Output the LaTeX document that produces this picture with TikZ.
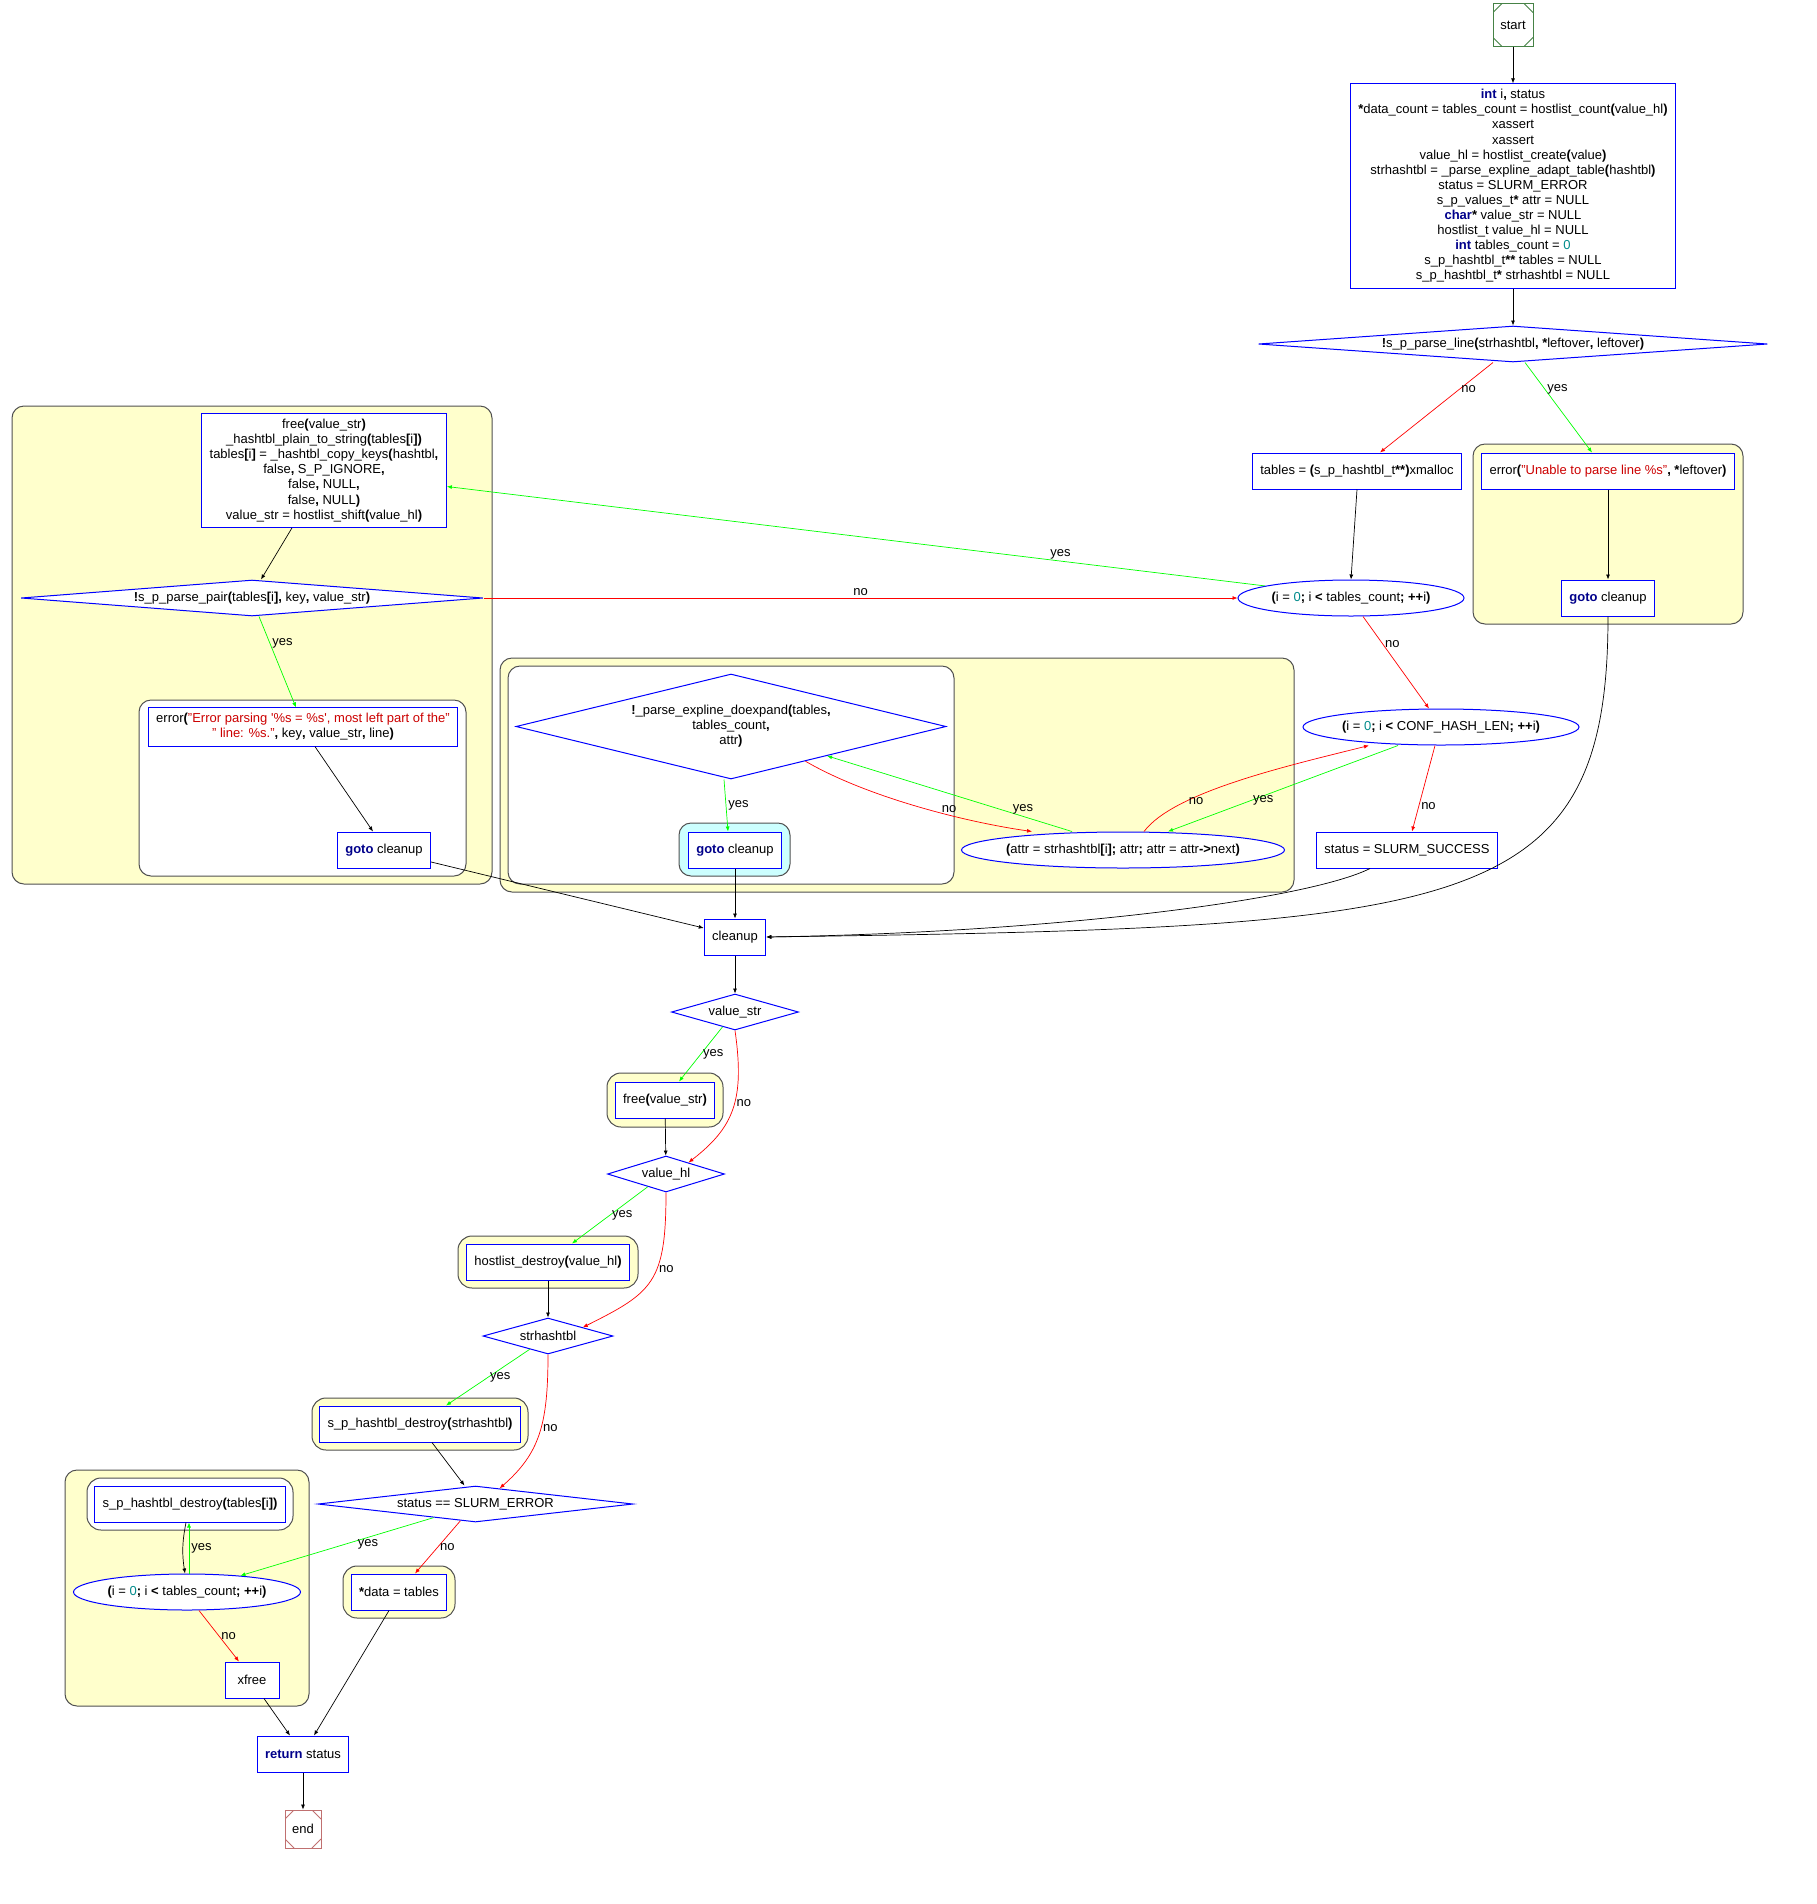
\documentclass[tikz,border=0pt]{standalone}
\usepackage{fontspec}
\setmainfont{Liberation Sans}
\usetikzlibrary{shapes.geometric,arrows.meta}

\definecolor{kwblue}{RGB}{0,0,139}
\definecolor{numcol}{RGB}{0,139,139}
\definecolor{strcol}{RGB}{204,0,0}
\definecolor{clfill}{RGB}{255,255,204}
\definecolor{clcyan}{RGB}{204,255,255}
\definecolor{cledge}{RGB}{80,80,80}
\definecolor{startcol}{RGB}{70,130,70}
\definecolor{endcol}{RGB}{192,112,112}
\definecolor{yescol}{RGB}{0,255,0}
\definecolor{nocol}{RGB}{255,0,0}

\newcommand{\kw}[1]{\textbf{\textcolor{kwblue}{#1}}}
\newcommand{\nm}[1]{\textcolor{numcol}{#1}}
\newcommand{\strl}[1]{\textcolor{strcol}{#1}}
\newcommand{\bo}[1]{\textbf{#1}}

\tikzset{
  stmt/.style={draw=blue, line width=1pt, fill=white, inner xsep=8pt, inner ysep=5.5pt,
    minimum width=54, minimum height=36, align=center},
  cond/.style={draw=blue, line width=1pt, fill=white, shape=diamond, inner sep=0pt,
    minimum height=36, align=center},
  forloop/.style={draw=blue, line width=1pt, fill=white, shape=ellipse, inner xsep=-4pt,
    inner ysep=0pt, minimum height=36},
  term/.style={draw=#1, line width=0.9pt, fill=white, minimum width=40, minimum height=43, inner sep=0pt,
    path picture={\draw[#1, line width=0.9pt]
      ([xshift=9pt]path picture bounding box.north west) -- ([yshift=-9pt]path picture bounding box.north west)
      ([xshift=-9pt]path picture bounding box.north east) -- ([yshift=-9pt]path picture bounding box.north east)
      ([xshift=9pt]path picture bounding box.south west) -- ([yshift=9pt]path picture bounding box.south west)
      ([xshift=-9pt]path picture bounding box.south east) -- ([yshift=9pt]path picture bounding box.south east);}},
  cluster/.style={draw=cledge, line width=1pt, fill=clfill, rounded corners=12pt},
  flow/.style={-{Latex[length=5pt,width=4pt]}, line width=0.7pt},
  yesedge/.style={flow, draw=yescol},
  noedge/.style={flow, draw=nocol},
  lbl/.style={inner sep=2pt, text=black}
}

\begin{document}
\begin{tikzpicture}[x=1pt, y=-1pt, font=\fontsize{13}{15.1}\selectfont]
\useasboundingbox (0,0) rectangle (1816,1904);

\draw[cluster] (12,406) rectangle (492,884);
\draw[cluster, fill=white] (139,700) rectangle (466,876);
\draw[cluster] (1473,444) rectangle (1743,624);
\draw[cluster] (500,658) rectangle (1294,892);
\draw[cluster, fill=white] (508,666) rectangle (954,884);
\draw[cluster, fill=clcyan] (679,823) rectangle (790,876);
\draw[cluster, rounded corners=14pt] (607,1073) rectangle (723,1127);
\draw[cluster, rounded corners=14pt] (458,1236) rectangle (638,1288);
\draw[cluster, rounded corners=14pt] (312,1398) rectangle (528,1450);
\draw[cluster] (65,1470) rectangle (309,1706);
\draw[cluster, fill=white, rounded corners=14pt] (87,1478) rectangle (293,1530);
\draw[cluster, rounded corners=14pt] (343,1566) rectangle (455,1618);

\node[term=startcol] (start) at (1513,25) {start};
\node[stmt] (init) at (1513,186) {\kw{int} i\bo{,} status\\
  \bo{*}data\_count = tables\_count = hostlist\_count\bo{(}value\_hl\bo{)}\\
  xassert\\
  xassert\\
  value\_hl = hostlist\_create\bo{(}value\bo{)}\\
  strhashtbl = \_parse\_expline\_adapt\_table\bo{(}hashtbl\bo{)}\\
  status = SLURM\_ERROR\\
  s\_p\_values\_t\bo{*} attr = NULL\\
  \kw{char}\bo{*} value\_str = NULL\\
  hostlist\_t value\_hl = NULL\\
  \kw{int} tables\_count = \nm{0}\\
  s\_p\_hashtbl\_t\bo{**} tables = NULL\\
  s\_p\_hashtbl\_t\bo{*} strhashtbl = NULL};
\node[cond, minimum width=509, shape aspect=14] (pline) at (1513,344)
  {\bo{!}s\_p\_parse\_line\bo{(}strhashtbl\bo{, *}leftover\bo{,} leftover\bo{)}};
\node[stmt] (tables) at (1357,471) {tables = \bo{(}s\_p\_hashtbl\_t\bo{**)}xmalloc};
\node[stmt] (errline) at (1608,471) {error\bo{(}\strl{"Unable to parse line \%s"}\bo{, *}leftover\bo{)}};
\node[stmt] (gotoR) at (1608,598) {\kw{goto} cleanup};
\node[forloop, minimum width=226] (for1) at (1351,598)
  {\bo{(}i = \nm{0}\bo{;} i \bo{<} tables\_count\bo{; ++}i\bo{)}};
\node[stmt] (free) at (324,470.5) {free\bo{(}value\_str\bo{)}\\
  \_hashtbl\_plain\_to\_string\bo{(}tables\bo{[}i\bo{])}\\
  tables\bo{[}i\bo{]} = \_hashtbl\_copy\_keys\bo{(}hashtbl\bo{,}\\
  false\bo{,} S\_P\_IGNORE\bo{,}\\
  false\bo{,} NULL\bo{,}\\
  false\bo{,} NULL\bo{)}\\
  value\_str = hostlist\_shift\bo{(}value\_hl\bo{)}};
\node[cond, minimum width=462, shape aspect=13] (pair) at (252,598)
  {\bo{!}s\_p\_parse\_pair\bo{(}tables\bo{[}i\bo{],} key\bo{,} value\_str\bo{)}};
\node[stmt] (errpair) at (303,727)
  {error\bo{(}\strl{"Error parsing \textquotesingle\%s = \%s\textquotesingle, most left part of the"}\\
  \strl{" line: \%s."}\bo{,} key\bo{,} value\_str\bo{,} line\bo{)}};
\node[stmt] (gotoL) at (384,850) {\kw{goto} cleanup};
\node[cond, minimum width=430, minimum height=105, shape aspect=4] (doexp) at (731,726.5)
  {\bo{!}\_parse\_expline\_doexpand\bo{(}tables\bo{,}\\ tables\_count\bo{,}\\ attr\bo{)}};
\node[stmt] (gotoM) at (735,850) {\kw{goto} cleanup};
\node[forloop, minimum width=323] (attr) at (1123,850)
  {\bo{(}attr = strhashtbl\bo{[}i\bo{];} attr\bo{;} attr = attr\bo{->}next\bo{)}};
\node[forloop, minimum width=276] (conf) at (1441,727)
  {\bo{(}i = \nm{0}\bo{;} i \bo{<} CONF\_HASH\_LEN\bo{; ++}i\bo{)}};
\node[stmt] (success) at (1407,850) {status = SLURM\_SUCCESS};
\node[stmt] (cleanup) at (735,937) {cleanup};
\node[cond, minimum width=127, shape aspect=3.5] (vstr) at (735,1012) {value\_str};
\node[stmt] (vfree) at (665,1100) {free\bo{(}value\_str\bo{)}};
\node[cond, minimum width=117, shape aspect=3.3] (vhl) at (666,1174) {value\_hl};
\node[stmt] (hldestroy) at (548,1262) {hostlist\_destroy\bo{(}value\_hl\bo{)}};
\node[cond, minimum width=130, shape aspect=3.6] (strh) at (548,1336) {strhashtbl};
\node[stmt] (strdestroy) at (420,1424) {s\_p\_hashtbl\_destroy\bo{(}strhashtbl\bo{)}};
\node[cond, minimum width=315, shape aspect=8.7] (serr) at (475.5,1504) {status == SLURM\_ERROR};
\node[stmt] (tdestroy) at (190,1504) {s\_p\_hashtbl\_destroy\bo{(}tables\bo{[}i\bo{])}};
\node[forloop, minimum width=227] (for2) at (187,1592)
  {\bo{(}i = \nm{0}\bo{;} i \bo{<} tables\_count\bo{; ++}i\bo{)}};
\node[stmt] (xfree) at (252,1680) {xfree};
\node[stmt] (data) at (399,1592) {\bo{*}data = tables};
\node[stmt] (ret) at (303,1754) {\kw{return} status};
\node[term=endcol, minimum width=36, minimum height=38] (finish) at (303,1829) {end};

\draw[flow] (start) -- (init);
\draw[flow] (init) -- (pline);
\draw[noedge] ([xshift=-20pt]pline.south) -- node[lbl, pos=0.3, right]{no} ([xshift=23pt]tables.north);
\draw[yesedge] ([xshift=12pt]pline.south) -- node[lbl, pos=0.3, right]{yes} ([xshift=-16pt]errline.north);
\draw[flow] (tables.south) -- (for1.north);
\draw[flow] (errline) -- (gotoR);
\draw[yesedge] (for1.172) -- node[lbl, pos=0.25, above]{yes} ([yshift=-16pt]free.east);
\draw[noedge] (pair.east) -- node[lbl, above]{no} (for1.west);
\draw[flow] ([xshift=-32pt]free.south) -- ([xshift=9pt]pair.north);
\draw[yesedge] ([xshift=7pt]pair.south) -- node[lbl, pos=0.3, right]{yes} ([xshift=-7pt]errpair.north);
\draw[flow] ([xshift=12pt]errpair.south) -- ([xshift=-11pt]gotoL.north);
\draw[flow] ([yshift=-12pt]gotoL.east) -- ([yshift=9pt]cleanup.west);
\draw[noedge] ([xshift=12pt]for1.south) -- node[lbl, pos=0.3, right]{no} ([xshift=-12pt]conf.north);
\draw[yesedge] ([xshift=-43pt]conf.south) -- node[lbl, pos=0.64, right]{yes} ([xshift=45pt]attr.north);
\draw[noedge] ([xshift=21pt]attr.north) .. controls +(30,-40) and +(-80,20) .. node[lbl, pos=0.28, right]{no} ([xshift=-72pt]conf.south);
\draw[yesedge] ([xshift=-51pt]attr.north) -- node[lbl, pos=0.2, above]{yes} (doexp.-17.4);
\draw[noedge] (doexp.-25.4) .. controls +(60,35) and +(-70,-10) .. node[lbl, pos=0.64, above]{no} ([xshift=-91pt]attr.north);
\draw[yesedge] ([xshift=-7pt]doexp.south) -- node[lbl, right]{yes} ([xshift=-7pt]gotoM.north);
\draw[flow] (gotoM) -- (cleanup);
\draw[noedge] ([xshift=-6pt]conf.south) -- node[lbl, pos=0.7, right]{no} ([xshift=5pt]success.north);
\draw[flow] (gotoR.south) .. controls +(0,300) and +(700,-10) .. (cleanup.east);
\draw[flow] ([xshift=-37pt]success.south) .. controls +(-60,30) and +(300,-5) .. (cleanup.east);
\draw[flow] (cleanup) -- (vstr);
\draw[yesedge] (vstr.230) -- node[lbl, pos=0.5, right]{yes} ([xshift=14pt]vfree.north);
\draw[noedge] (vstr.south) .. controls +(10,70) and +(45,-35) .. node[lbl, pos=0.45, right]{no} (vhl.27);
\draw[flow] (vfree) -- (vhl);
\draw[yesedge] (vhl.215) -- node[lbl, pos=0.5, right]{yes} ([xshift=24pt]hldestroy.north);
\draw[noedge] (vhl.south) .. controls +(0,90) and +(70,-35) .. node[lbl, pos=0.4, right]{no} (strh.14);
\draw[flow] (hldestroy) -- (strh);
\draw[yesedge] (strh.216) -- node[lbl, pos=0.5, right]{yes} ([xshift=26pt]strdestroy.north);
\draw[noedge] (strh.south) .. controls +(0,70) and +(40,-35) .. node[lbl, pos=0.45, right]{no} (serr.33);
\draw[flow] ([xshift=12pt]strdestroy.south) -- ([xshift=-11pt]serr.north);
\draw[yesedge] (serr.198) -- node[lbl, pos=0.34, below]{yes} (for2.17);
\draw[noedge] (serr.228) -- node[lbl, pos=0.5, right]{no} ([xshift=16pt]data.north);
\draw[flow] ([xshift=-4pt]tdestroy.south) to[bend right=10] ([xshift=-2pt]for2.north);
\draw[yesedge] ([xshift=2pt]for2.north) -- node[lbl, right]{yes} ([xshift=-1pt]tdestroy.south);
\draw[noedge] ([xshift=12pt]for2.south) -- node[lbl, pos=0.5, right]{no} ([xshift=-13pt]xfree.north);
\draw[flow] ([xshift=12pt]xfree.south) -- ([xshift=-13pt]ret.north);
\draw[flow] ([xshift=-10pt]data.south) -- ([xshift=11pt]ret.north);
\draw[flow] (ret) -- (finish);
\end{tikzpicture}
\end{document}
